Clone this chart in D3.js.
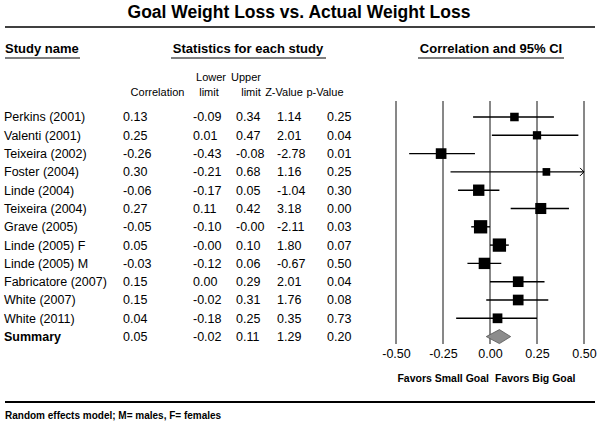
<!DOCTYPE html>
<html><head><meta charset="utf-8">
<script src="https://cdn.jsdelivr.net/npm/d3@7/dist/d3.min.js"></script>
<style>body{margin:0;background:#fff}svg{display:block}</style>
</head><body>
<svg id="chart" width="600" height="425"></svg>
<script>
const studies = ["Perkins (2001)","Valenti (2001)","Teixeira (2002)","Foster (2004)","Linde (2004)","Teixeira (2004)","Grave (2005)","Linde (2005) F","Linde (2005) M","Fabricatore (2007)","White (2007)","White (2011)"];
const correlation = [0.13,0.25,-0.26,0.30,-0.06,0.27,-0.05,0.05,-0.03,0.15,0.15,0.04];
const lowerLimit = [-0.09,0.01,-0.43,-0.21,-0.17,0.11,-0.10,-0.00,-0.12,0.00,-0.02,-0.18];
const upperLimit = [0.34,0.47,-0.08,0.68,0.05,0.42,-0.00,0.10,0.06,0.29,0.31,0.25];
const zValue = [1.14,2.01,-2.78,1.16,-1.04,3.18,-2.11,1.80,-0.67,2.01,1.76,0.35];
const pValue = [0.25,0.04,0.01,0.25,0.30,0.00,0.03,0.07,0.50,0.04,0.08,0.73];
const relWeight = [5.3,5.0,8.3,4.3,9.4,8.9,12.9,12.9,9.4,8.3,8.3,6.9];
const summary = {name:"Summary", r:0.05, lo:-0.02, hi:0.11, z:1.29, p:0.20};
const axisTicks = [-0.50,-0.25,0.00,0.25,0.50];
const title = "Goal Weight Loss vs. Actual Weight Loss";
const favorsLeft = "Favors Small Goal", favorsRight = "Favors Big Goal";
const footnote = "Random effects model; M= males, F= females";

const svg = d3.select("#chart");
const FONT = "'Liberation Sans', Arial, sans-serif";
svg.style("font-family", FONT);

const x = d3.scaleLinear().domain([-0.5,0.5]).range([396,584]);
const y = d3.scaleLinear().domain([0, studies.length]).range([117, 336.6]);
const boxSize = d3.scaleSqrt().domain([0, d3.max(relWeight)]).range([0, 13.3]);
const f2 = d3.format(".2f");
const fmtV = v => ((v === 0 && 1/v < 0) ? "-0.00" : f2(v)).replace("\u2212","-");

// Title
svg.append("text").attr("x",299).attr("y",18).attr("text-anchor","middle")
  .attr("font-size",17.5).attr("font-weight","bold").text(title);
svg.append("line").attr("x1",5).attr("x2",595).attr("y1",27).attr("y2",27)
  .attr("stroke","#000").attr("stroke-width",1.5);

// Section headers
function header(txt, xpos, anchor, uStart, uEnd){
  svg.append("text").attr("x",xpos).attr("y",53).attr("text-anchor",anchor)
    .attr("font-size",13).attr("font-weight","bold").text(txt);
  svg.append("line").attr("x1",uStart).attr("x2",uEnd).attr("y1",58).attr("y2",58)
    .attr("stroke","#000").attr("stroke-width",1.2);
}
header("Study name",5,"start",5,80);
header("Statistics for each study",248,"middle",171,326);
header("Correlation and 95% CI",491,"middle",418,564);

// Column headers
const colX = [123,193,236,277,327];
const hdr = svg.append("g").attr("font-size",11);
hdr.append("text").attr("x",157.5).attr("y",96).attr("text-anchor","middle").text("Correlation");
hdr.append("text").attr("x",211).attr("y",81).attr("text-anchor","middle").text("Lower");
hdr.append("text").attr("x",209).attr("y",96).attr("text-anchor","middle").text("limit");
hdr.append("text").attr("x",246).attr("y",81).attr("text-anchor","middle").text("Upper");
hdr.append("text").attr("x",251).attr("y",96).attr("text-anchor","middle").text("limit");
hdr.append("text").attr("x",284).attr("y",96).attr("text-anchor","middle").text("Z-Value");
hdr.append("text").attr("x",325).attr("y",96).attr("text-anchor","middle").text("p-Value");

// Table rows
const rows = studies.map((s,i)=>({name:s, r:correlation[i], lo:lowerLimit[i], hi:upperLimit[i], z:zValue[i], p:pValue[i], w:relWeight[i], i}));
const tbl = svg.append("g").attr("font-size",12.5);
rows.concat([{...summary, i:studies.length, bold:true}]).forEach(d=>{
  const yy = y(d.i) + 4.4;
  tbl.append("text").attr("x",4).attr("y",yy).attr("font-weight",d.bold?"bold":null).text(d.name);
  [d.r,d.lo,d.hi,d.z,d.p].forEach((v,k)=>{
    tbl.append("text").attr("x",colX[k]).attr("y",yy).text(fmtV(v));
  });
});

// Gridlines
svg.append("g").selectAll("line").data(axisTicks).join("line")
  .attr("x1",d=>x(d)).attr("x2",d=>x(d)).attr("y1",101).attr("y2",344)
  .attr("stroke","#111").attr("stroke-width",1);

// Axis labels
const axis = d3.axisBottom(x).tickValues(axisTicks).tickFormat(fmtV).tickSize(0).tickPadding(0);
const ag = svg.append("g").attr("transform","translate(0,349)").call(axis);
ag.select(".domain").remove();
ag.selectAll("text").attr("font-size",12.5).attr("font-family",FONT).attr("fill","#000");

// CI lines
const [xmin,xmax] = x.domain();
const ci = svg.append("g");
rows.forEach(d=>{
  const yy = y(d.i);
  const x1 = x(Math.max(d.lo,xmin)), x2 = x(Math.min(d.hi,xmax));
  ci.append("line").attr("x1",x1).attr("x2",x2).attr("y1",yy).attr("y2",yy)
    .attr("stroke","#000").attr("stroke-width",1.4);
  if (d.hi > xmax) {
    ci.append("path").attr("d",`M${x2-4},${yy-4}L${x2},${yy}L${x2-4},${yy+4}`)
      .attr("fill","none").attr("stroke","#000").attr("stroke-width",1);
  }
  const s = boxSize(d.w);
  ci.append("rect").attr("x",x(d.r)-s/2).attr("y",yy-s/2).attr("width",s).attr("height",s).attr("fill","#000");
});

// Summary diamond
const ys = y(studies.length);
svg.append("path")
  .attr("d",`M${x(summary.lo)},${ys}L${x(summary.r)},${ys-7}L${x(summary.hi)},${ys}L${x(summary.r)},${ys+7}Z`)
  .attr("fill","#8c8c8c").attr("stroke","#555").attr("stroke-width",0.8);

// Favors labels
svg.append("text").attr("x",489).attr("y",382).attr("text-anchor","end")
  .attr("font-size",10.5).attr("font-weight","bold").text(favorsLeft);
svg.append("text").attr("x",495).attr("y",382).attr("text-anchor","start")
  .attr("font-size",10.5).attr("font-weight","bold").text(favorsRight);

// Bottom rule and footnote
svg.append("line").attr("x1",5).attr("x2",595).attr("y1",402).attr("y2",402)
  .attr("stroke","#000").attr("stroke-width",2);
svg.append("text").attr("x",5).attr("y",419).attr("font-size",10).attr("font-weight","bold").text(footnote);
</script>
</body></html>
